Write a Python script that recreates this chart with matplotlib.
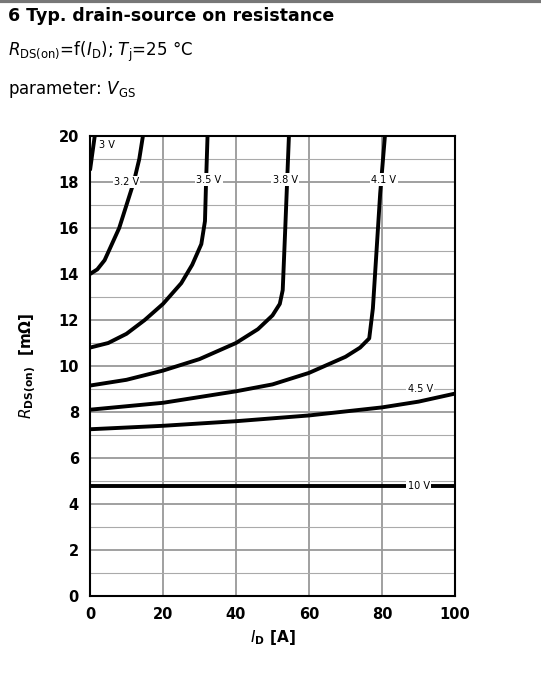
import numpy as np
import matplotlib.pyplot as plt

# curves: I_D [A], R_DS(on) [mOhm]
id_3v0 = [0, 0.6, 1.3]
r_3v0 = [18.5, 19.2, 20]
id_3v2 = [0, 2, 4, 6, 8, 10, 12, 13.5, 14.5]
r_3v2 = [14.0, 14.2, 14.6, 15.3, 16.0, 17.0, 18.0, 19.0, 20]
id_3v5 = [0, 5, 10, 15, 20, 25, 28, 30.5, 31.5, 31.8, 32.2]
r_3v5 = [10.8, 11.0, 11.4, 12.0, 12.7, 13.6, 14.4, 15.3, 16.3, 18.0, 20]
id_3v8 = [0, 10, 20, 30, 40, 46, 50, 52, 52.8, 53.5, 54, 54.5]
r_3v8 = [9.15, 9.4, 9.8, 10.3, 11.0, 11.6, 12.2, 12.7, 13.3, 16.0, 18.0, 20]
id_4v1 = [0, 20, 40, 50, 60, 70, 74, 76.5, 77.5, 78.5, 79.5, 80.8]
r_4v1 = [8.1, 8.4, 8.9, 9.2, 9.7, 10.4, 10.8, 11.2, 12.5, 15.0, 17.5, 20]
id_4v5 = [0, 20, 40, 60, 80, 90, 100]
r_4v5 = [7.25, 7.4, 7.6, 7.85, 8.2, 8.45, 8.8]
id_10v = [0, 100]
r_10v = [4.8, 4.8]

fig = plt.figure(figsize=(5.41, 6.73), dpi=100)
ax = fig.add_axes([90/541, 1-596/673, 365/541, 460/673])

for x, y in [(id_3v0, r_3v0), (id_3v2, r_3v2), (id_3v5, r_3v5), (id_3v8, r_3v8),
             (id_4v1, r_4v1), (id_4v5, r_4v5), (id_10v, r_10v)]:
    ax.plot(x, y, color='black', lw=2.8, solid_capstyle='butt', zorder=3)

ax.set_xlim(0, 100); ax.set_ylim(0, 20)
ax.set_xticks(range(0, 101, 20))
ax.set_yticks(range(0, 21, 2))
ax.set_yticks(range(0, 21, 1), minor=True)
ax.grid(True, which='major', color='#999999', lw=1.3)
ax.grid(True, which='minor', axis='y', color='#aaaaaa', lw=0.8)
ax.tick_params(which='both', length=0, labelsize=10.5, pad=8)
for lab in ax.get_xticklabels() + ax.get_yticklabels():
    lab.set_fontweight('bold')
for s in ax.spines.values():
    s.set_linewidth(1.5)

box = dict(facecolor='white', edgecolor='none', pad=1)
for txt, x, y in [('3.2 V', 10, 18), ('3.5 V', 32.5, 18.1), ('3.8 V', 53.5, 18.1),
                  ('4.1 V', 80.5, 18.1), ('4.5 V', 90.5, 9.0), ('10 V', 90, 4.8)]:
    ax.text(x, y, txt, fontsize=7, ha='center', va='center', bbox=box, zorder=4)
ax.text(2.5, 19.6, '3 V', fontsize=7, ha='left', va='center', zorder=4)

ax.set_xlabel(r'$\mathbf{\it{I}}_{\mathbf{D}}$ [A]', fontsize=11, fontweight='bold')
ax.set_ylabel(r'$\mathbf{\it{R}}_{\mathbf{DS(on)}}$  [m$\mathbf{\Omega}$]',
              fontsize=11, fontweight='bold', labelpad=14)

fig.add_artist(plt.Line2D([0, 1], [0.998, 0.998], color='#777777', lw=3))
fig.text(8/541, 1-16/673, '6 Typ. drain-source on resistance', fontsize=12.5,
         fontweight='bold', va='center')
fig.text(8/541, 1-52/673, r'$\it{R}_{\rm DS(on)}$=f($\it{I}_{\rm D}$); $\it{T}_{\rm j}$=25 °C',
         fontsize=12, va='center')
fig.text(8/541, 1-90/673, r'parameter: $\it{V}_{\rm GS}$', fontsize=12, va='center')

fig.savefig('out.png', dpi=100)
